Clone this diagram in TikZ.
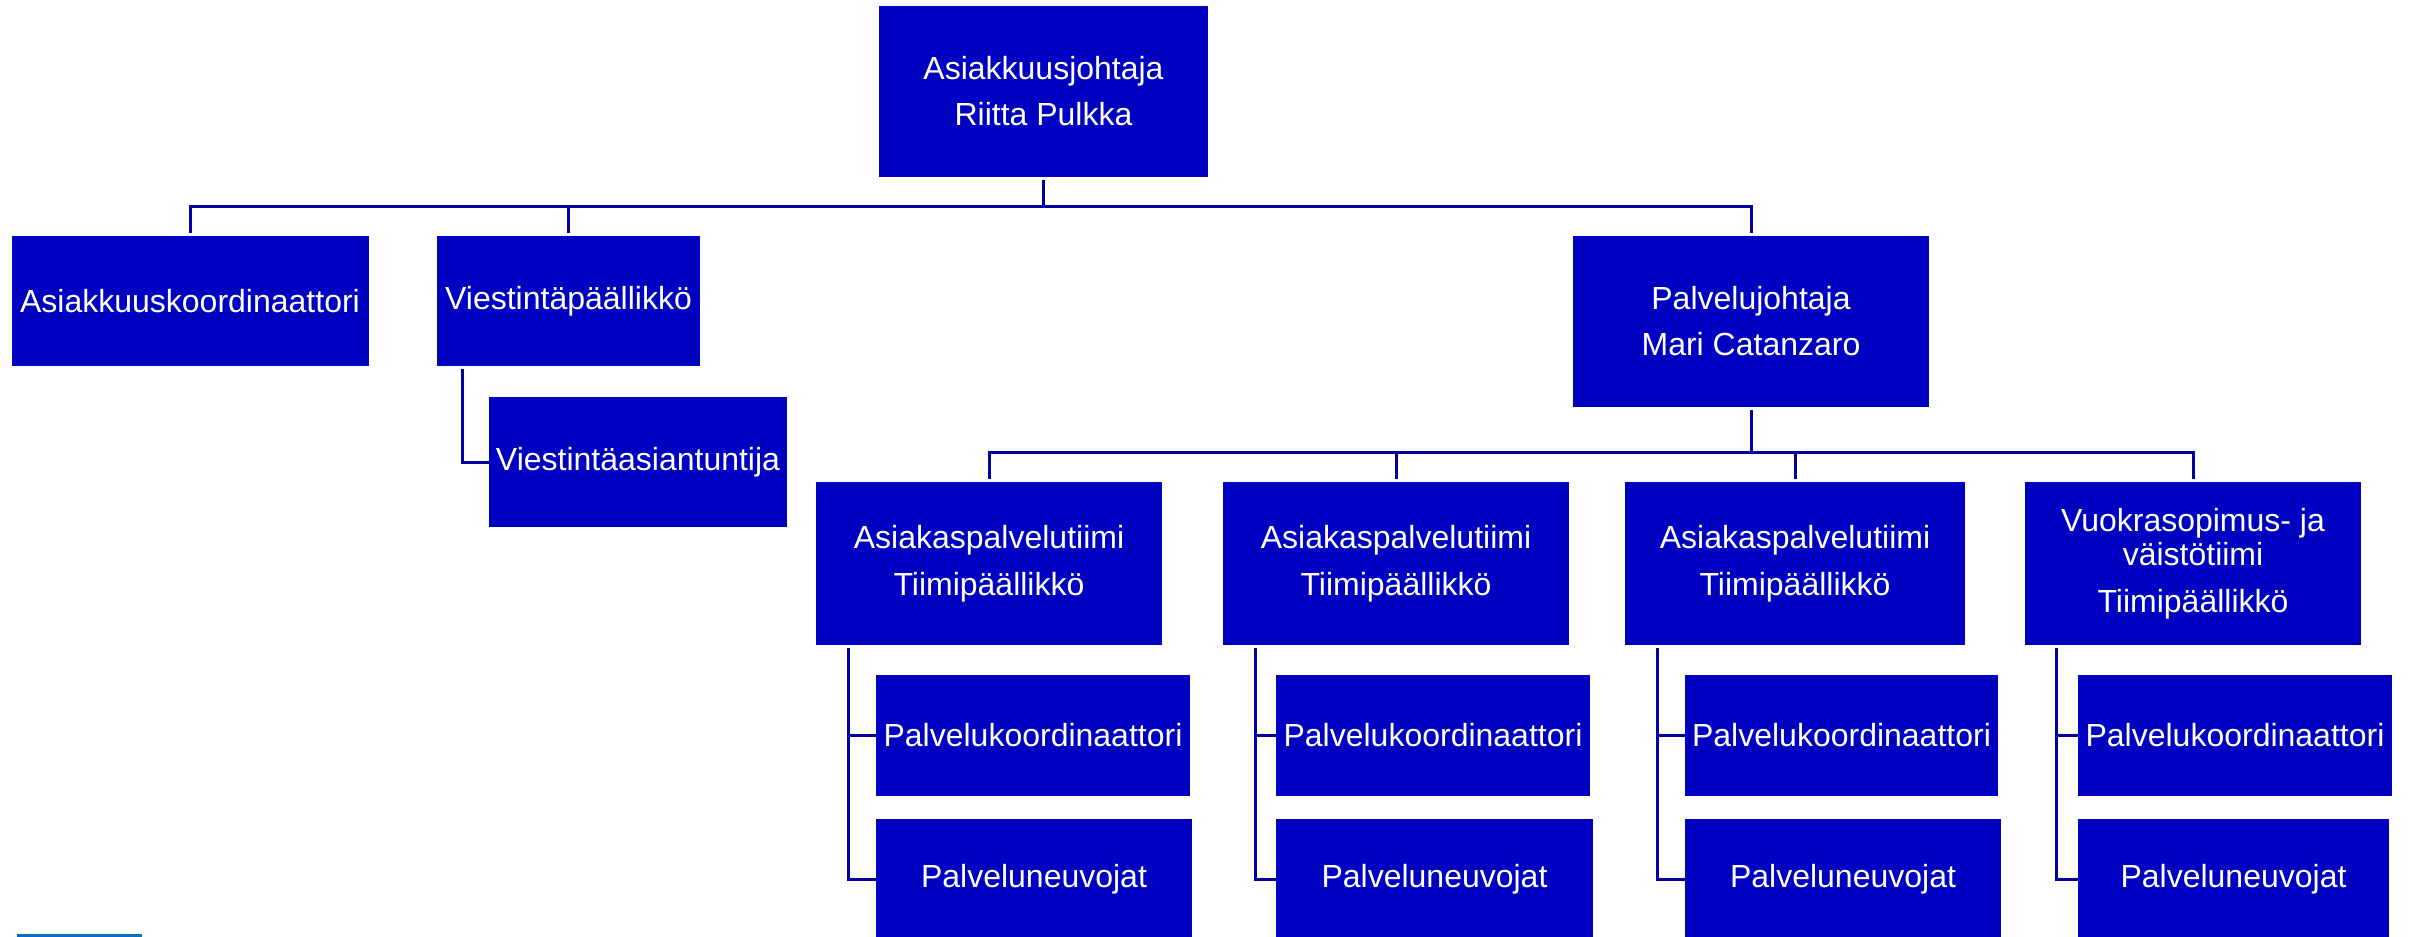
\documentclass[tikz,border=0pt]{standalone}
\usepackage{fontspec}
\setmainfont{Liberation Sans}
\definecolor{boxblue}{RGB}{0,0,192}
\definecolor{linkblue}{RGB}{0,0,160}
\definecolor{barblue}{RGB}{0,112,192}

\begin{document}
\begin{tikzpicture}[x=1pt, y=-1pt,
 every node/.style = {shape=rectangle, fill=boxblue, text=white, align=center, inner sep=0pt,
   font=\fontsize{32}{34}\selectfont},
 link/.style = {draw=linkblue, line width=3pt}]
\useasboundingbox (0,0) rectangle (2410,937);

\node[minimum width=329pt, minimum height=171pt] (johtaja) at (1043.5,91.5) {Asiakkuusjohtaja\\[12pt] Riitta Pulkka};
\node[minimum width=357pt, minimum height=130pt] (koord) at (190,301) {Asiakkuuskoordinaattori};
\node[minimum width=263pt, minimum height=130pt] (viestpaa) at (568.5,301) {Viestintäpäällikkö};
\node[minimum width=298pt, minimum height=130pt] (viestasi) at (638,462) {Viestintäasiantuntija};
\node[minimum width=356pt, minimum height=171pt] (palvjoht) at (1751,321.5) {Palvelujohtaja\\[12pt] Mari Catanzaro};

\node[minimum width=346pt, minimum height=163pt] (team1) at (989,563.5) {Asiakaspalvelutiimi\\[13pt] Tiimipäällikkö};
\node[minimum width=346pt, minimum height=163pt] (team2) at (1396,563.5) {Asiakaspalvelutiimi\\[13pt] Tiimipäällikkö};
\node[minimum width=340pt, minimum height=163pt] (team3) at (1795,563.5) {Asiakaspalvelutiimi\\[13pt] Tiimipäällikkö};
\node[minimum width=336pt, minimum height=163pt] (team4) at (2193,563.5) {Vuokrasopimus- ja\\ väistötiimi\\[13pt] Tiimipäällikkö};

\node[minimum width=314pt, minimum height=121pt] (pk1) at (1033,735) {Palvelukoordinaattori};
\node[minimum width=316pt, minimum height=121pt] (pn1) at (1034,879.5) {Palveluneuvojat};
\node[minimum width=314pt, minimum height=121pt] (pk2) at (1433,735) {Palvelukoordinaattori};
\node[minimum width=317pt, minimum height=121pt] (pn2) at (1434.5,879.5) {Palveluneuvojat};
\node[minimum width=313pt, minimum height=121pt] (pk3) at (1841.5,735) {Palvelukoordinaattori};
\node[minimum width=316pt, minimum height=121pt] (pn3) at (1843,879.5) {Palveluneuvojat};
\node[minimum width=314pt, minimum height=121pt] (pk4) at (2235,735) {Palvelukoordinaattori};
\node[minimum width=311pt, minimum height=121pt] (pn4) at (2233.5,879.5) {Palveluneuvojat};

\coordinate (bus1) at (1043.5,206);
\coordinate (bus2) at (1751,452);

\draw[link] ([yshift=-3pt]johtaja.south) -- (bus1);
\draw[link] ([yshift=3pt]koord.north) |- (bus1) -| ([yshift=3pt]palvjoht.north);
\draw[link] ([yshift=3pt]viestpaa.north) -- (viestpaa.north |- bus1);
\draw[link] ([xshift=26pt,yshift=-3pt]viestpaa.south west) |- (viestasi.west);

\draw[link] ([yshift=-3pt]palvjoht.south) -- (bus2);
\draw[link] ([yshift=3pt]team1.north) |- (bus2) -| ([yshift=3pt]team4.north);
\draw[link] ([yshift=3pt]team2.north) -- (team2.north |- bus2);
\draw[link] ([yshift=3pt]team3.north) -- (team3.north |- bus2);

\draw[link] ([xshift=33pt,yshift=-3pt]team1.south west) |- (pk1.west);
\draw[link] ([xshift=33pt,yshift=-3pt]team1.south west) |- (pn1.west);
\draw[link] ([xshift=33pt,yshift=-3pt]team2.south west) |- (pk2.west);
\draw[link] ([xshift=33pt,yshift=-3pt]team2.south west) |- (pn2.west);
\draw[link] ([xshift=33pt,yshift=-3pt]team3.south west) |- (pk3.west);
\draw[link] ([xshift=33pt,yshift=-3pt]team3.south west) |- (pn3.west);
\draw[link] ([xshift=32pt,yshift=-3pt]team4.south west) |- (pk4.west);
\draw[link] ([xshift=32pt,yshift=-3pt]team4.south west) |- (pn4.west);

\fill[barblue] (17,934) rectangle (142,940);
\end{tikzpicture}
\end{document}
